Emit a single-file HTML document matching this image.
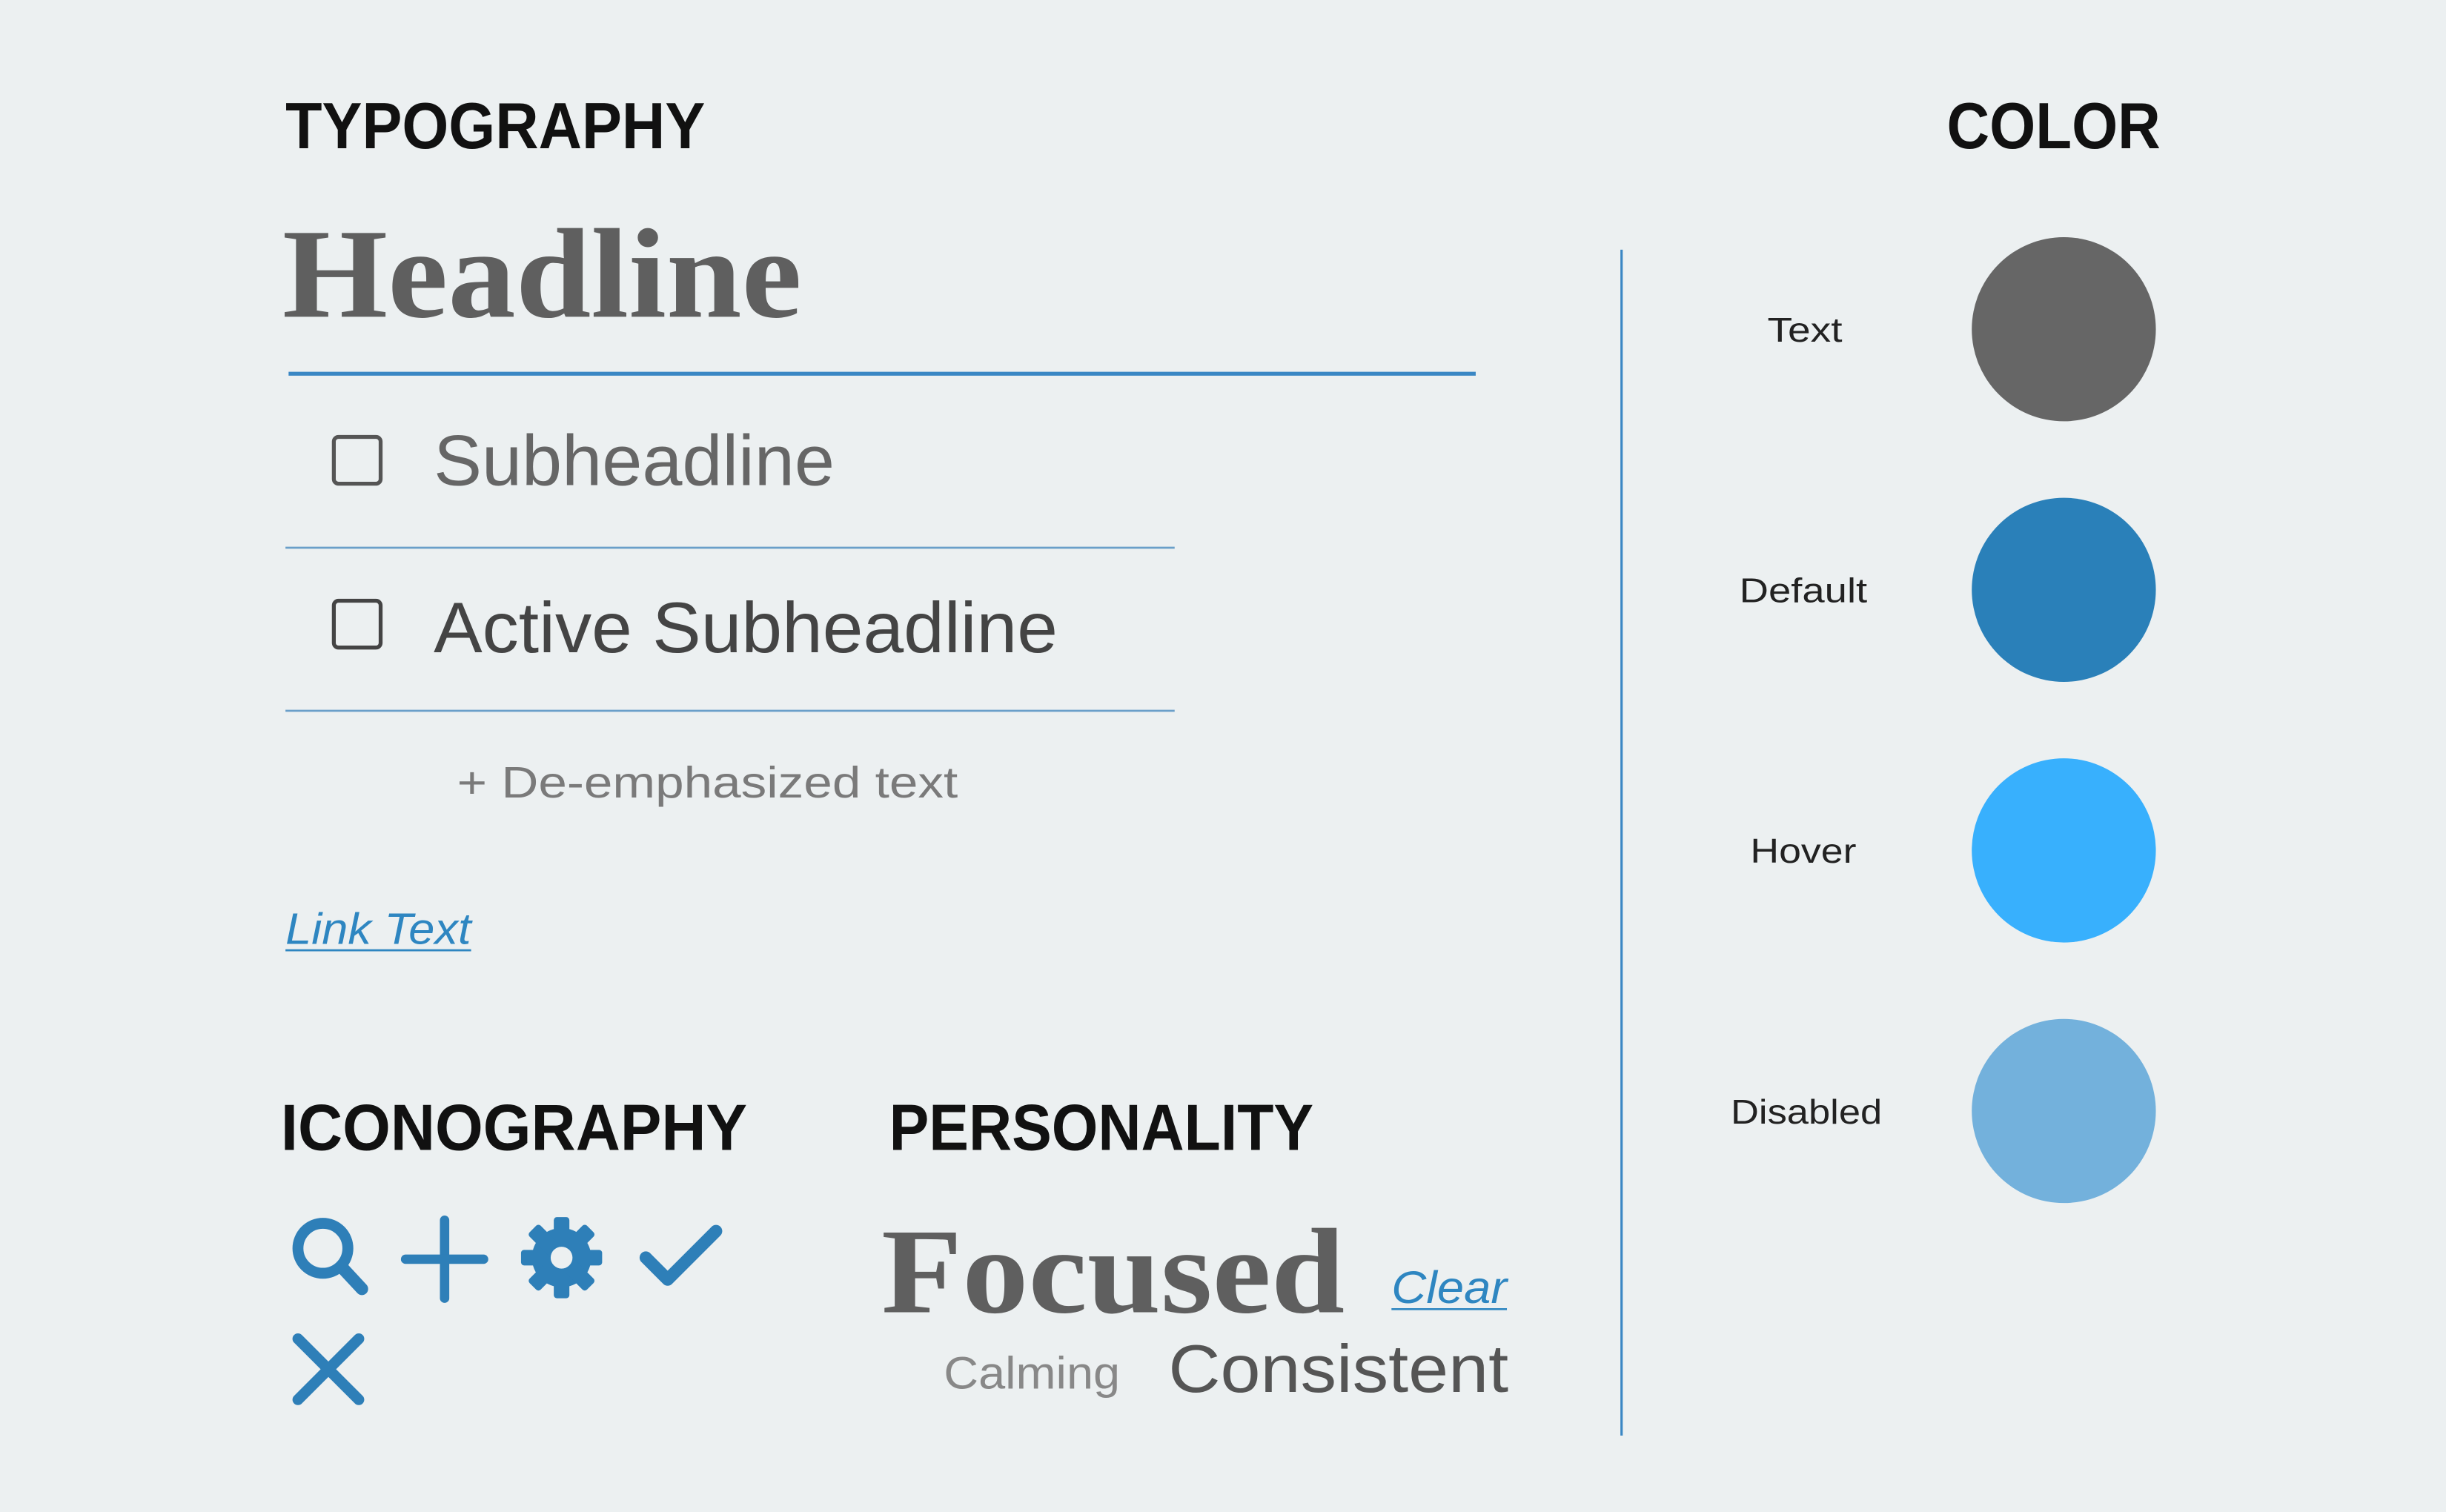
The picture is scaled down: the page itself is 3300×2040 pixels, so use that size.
<!DOCTYPE html>
<html><head><meta charset="utf-8"><style>
html,body{margin:0;padding:0;background:#ecf0f1;}
svg{display:block;}
text{font-family:"Liberation Sans",sans-serif;}
.serif{font-family:"Liberation Serif",serif;}
</style></head><body>
<svg width="3300" height="2040" viewBox="0 0 1568 969" preserveAspectRatio="none" xmlns="http://www.w3.org/2000/svg">
<rect width="1568" height="969" fill="#ecf0f1"/>
<text x="183" y="95" font-size="42" font-weight="bold" fill="#111" textLength="269" lengthAdjust="spacingAndGlyphs">TYPOGRAPHY</text>
<text x="1248" y="95" font-size="42" font-weight="bold" fill="#111" textLength="137" lengthAdjust="spacingAndGlyphs">COLOR</text>
<text class="serif" x="181" y="203" font-size="82" font-weight="bold" fill="#5f5f5f" textLength="333" lengthAdjust="spacingAndGlyphs">Headline</text>
<line x1="185" y1="239.5" x2="946" y2="239.5" stroke="#3a87c4" stroke-width="2.5"/>
<rect x="214" y="280" width="30" height="30" rx="3" fill="none" stroke="#555" stroke-width="2.5"/>
<text x="278" y="311" font-size="46" fill="#666" textLength="257" lengthAdjust="spacingAndGlyphs">Subheadline</text>
<line x1="183" y1="351" x2="753" y2="351" stroke="#6a9fc9" stroke-width="1.3"/>
<rect x="214" y="385" width="30" height="30" rx="3" fill="none" stroke="#444" stroke-width="2.5"/>
<text x="278" y="418" font-size="46" fill="#444" textLength="400" lengthAdjust="spacingAndGlyphs">Active Subheadline</text>
<line x1="183" y1="455.5" x2="753" y2="455.5" stroke="#6a9fc9" stroke-width="1.3"/>
<text x="293" y="511" font-size="28" fill="#7a7a7a" textLength="321" lengthAdjust="spacingAndGlyphs">+ De-emphasized text</text>
<text x="183" y="605" font-size="28" font-style="italic" fill="#2e86c1" textLength="119" lengthAdjust="spacingAndGlyphs">Link Text</text>
<line x1="183" y1="609" x2="302" y2="609" stroke="#2e86c1" stroke-width="1.3"/>
<text x="180" y="737" font-size="42" font-weight="bold" fill="#111" textLength="299" lengthAdjust="spacingAndGlyphs">ICONOGRAPHY</text>
<text x="570" y="737" font-size="42" font-weight="bold" fill="#111" textLength="272" lengthAdjust="spacingAndGlyphs">PERSONALITY</text>
<g stroke="#2e7fb8" fill="none" stroke-linecap="round">
<circle cx="207" cy="800" r="16" stroke-width="7"/>
<line x1="219" y1="812" x2="232" y2="826" stroke-width="8"/>
<line x1="285" y1="782" x2="285" y2="832" stroke-width="6"/>
<line x1="260" y1="807" x2="310" y2="807" stroke-width="6"/>
<polyline points="414,806 428,820 459,789" stroke-width="8" stroke-linejoin="round"/>
<line x1="191" y1="858" x2="230" y2="897" stroke-width="7"/>
<line x1="230" y1="858" x2="191" y2="897" stroke-width="7"/>
</g>
<g fill="#2e7fb8" transform="translate(360,806)">
<circle r="19"/>
<rect x="-5" y="-26" width="10" height="52" rx="2"/>
<rect x="-5" y="-26" width="10" height="52" rx="2" transform="rotate(45)"/>
<rect x="-5" y="-26" width="10" height="52" rx="2" transform="rotate(90)"/>
<rect x="-5" y="-26" width="10" height="52" rx="2" transform="rotate(135)"/>
<circle r="7" fill="#ecf0f1"/>
</g>
<text class="serif" x="565" y="841" font-size="78" font-weight="bold" fill="#5f5f5f" textLength="297" lengthAdjust="spacingAndGlyphs">Focused</text>
<text x="892" y="835" font-size="29" font-style="italic" fill="#2e86c1" textLength="74" lengthAdjust="spacingAndGlyphs">Clear</text>
<line x1="892" y1="839" x2="966" y2="839" stroke="#2e86c1" stroke-width="1.3"/>
<text x="605" y="890" font-size="29" fill="#888" textLength="113" lengthAdjust="spacingAndGlyphs">Calming</text>
<text x="749" y="892" font-size="43" fill="#555" textLength="218" lengthAdjust="spacingAndGlyphs">Consistent</text>
<line x1="1039.5" y1="160" x2="1039.5" y2="920" stroke="#3a87c4" stroke-width="1.5"/>
<text x="1157" y="219" font-size="22" fill="#222" text-anchor="middle" textLength="48" lengthAdjust="spacingAndGlyphs">Text</text>
<text x="1156" y="386" font-size="22" fill="#222" text-anchor="middle" textLength="82" lengthAdjust="spacingAndGlyphs">Default</text>
<text x="1156" y="553" font-size="22" fill="#222" text-anchor="middle" textLength="68" lengthAdjust="spacingAndGlyphs">Hover</text>
<text x="1158" y="720" font-size="22" fill="#222" text-anchor="middle" textLength="97" lengthAdjust="spacingAndGlyphs">Disabled</text>
<circle cx="1323" cy="211" r="59" fill="#666666"/>
<circle cx="1323" cy="378" r="59" fill="#2a80b9"/>
<circle cx="1323" cy="545" r="59" fill="#38b0fd"/>
<circle cx="1323" cy="712" r="59" fill="#73b1dc"/>
</svg>
</body></html>
